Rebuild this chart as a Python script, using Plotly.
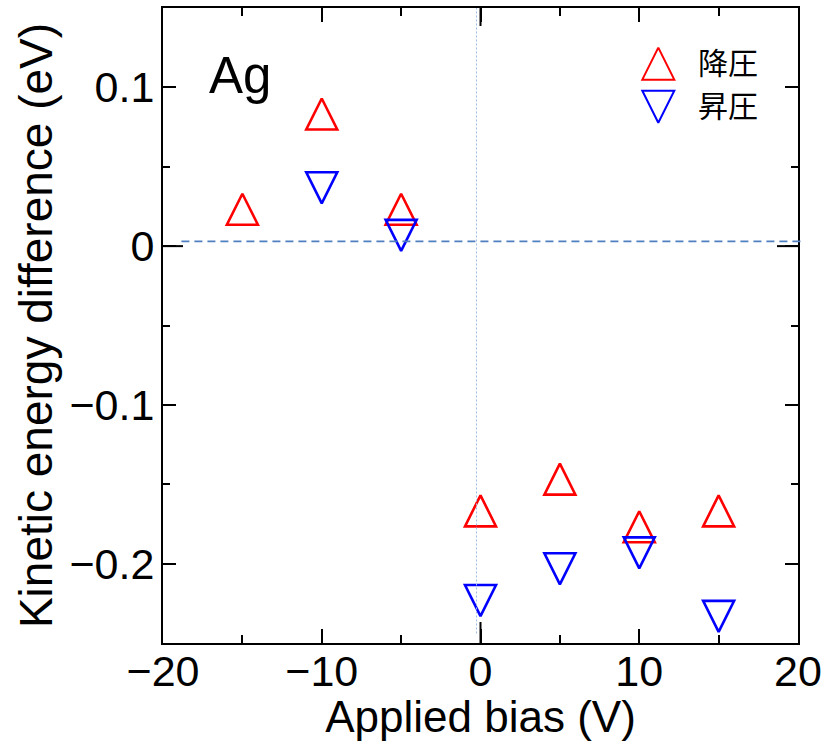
import plotly.graph_objects as go

# Applied bias (V) and kinetic energy difference (eV)
bias_down = [-15, -10, -5, 0, 5, 10, 15]
ked_down = [0.02, 0.08, 0.02, -0.17, -0.15, -0.18, -0.17]   # 降圧
bias_up = [-10, -5, 0, 5, 10, 15]
ked_up = [0.04, 0.01, -0.22, -0.20, -0.19, -0.23]            # 昇圧

label_down = "降圧"
label_up = "昇圧"
sample = "Ag"

ref_level = 0.003      # dashed reference level (eV)
ref_bias = -0.25       # dotted reference bias (V)

x_range = [-20, 20]
y_range = [-0.25, 0.15]

FONT = "Liberation Sans, Arial, Helvetica, sans-serif"
CJK = "Noto Sans CJK JP, Noto Sans, sans-serif"
RED = "#ff0000"
BLUE = "#0000ff"

# equilateral-looking triangles centred on their centroid
SIZE = 31


def tri(color, up, size=SIZE, lw=2.6):
    r = size / 2
    return dict(
        symbol="arrow-down-open",
        angle=180 if up else 0,
        standoff=4 * r / 3,
        size=size,
        color=color,
        line=dict(color=color, width=lw),
    )


fig = go.Figure()

fig.add_trace(go.Scatter(
    x=bias_down, y=ked_down, mode="markers", name=label_down,
    marker=tri(RED, True), showlegend=False, cliponaxis=False,
))
fig.add_trace(go.Scatter(
    x=bias_up, y=ked_up, mode="markers", name=label_up,
    marker=tri(BLUE, False), showlegend=False, cliponaxis=False,
))

# key symbols on an overlay axis spanning the plot area
key_x = [0.78, 0.78]
key_y = [0.904, 0.853]
fig.add_trace(go.Scatter(
    x=[key_x[0]], y=[key_y[0]], mode="markers", xaxis="x2", yaxis="y2",
    marker=tri(RED, True, size=32, lw=2), showlegend=False, hoverinfo="skip",
))
fig.add_trace(go.Scatter(
    x=[key_x[1]], y=[key_y[1]], mode="markers", xaxis="x2", yaxis="y2",
    marker=tri(BLUE, False, size=32, lw=2), showlegend=False, hoverinfo="skip",
))

shapes = [
    # dashed reference level
    dict(type="line", xref="paper", yref="y", x0=0.029, x1=1.004,
         y0=ref_level, y1=ref_level,
         line=dict(color="#4f7fbf", width=1.6, dash="8px,5px")),
    # dotted reference bias
    dict(type="line", xref="x", yref="paper", x0=ref_bias, x1=ref_bias,
         y0=0.015, y1=1.0, line=dict(color="#9dbbe6", width=1, dash="2px,2px")),
]
# longer ticks at zero on all four sides
tick_style = dict(color="black", width=2)
shapes += [
    dict(type="line", xref="x", yref="y", ysizemode="pixel", yanchor=y_range[0],
         x0=0, x1=0, y0=0, y1=21, line=tick_style),
    dict(type="line", xref="x", yref="y", ysizemode="pixel", yanchor=y_range[1],
         x0=0, x1=0, y0=0, y1=-18, line=tick_style),
    dict(type="line", xref="x", yref="y", xsizemode="pixel", xanchor=x_range[0],
         x0=0, x1=20, y0=0, y1=0, line=tick_style),
    dict(type="line", xref="x", yref="y", xsizemode="pixel", xanchor=x_range[1],
         x0=0, x1=-21, y0=0, y1=0, line=tick_style),
]

annotations = [
    dict(text=sample, xref="paper", yref="paper", x=0.07, y=0.893,
         xanchor="left", yanchor="middle", showarrow=False,
         font=dict(family=FONT, size=51, color="black")),
    dict(text=label_down, xref="paper", yref="paper", x=0.84, y=0.916,
         xanchor="left", yanchor="middle", showarrow=False,
         font=dict(family=CJK, size=30, color="black")),
    dict(text=label_up, xref="paper", yref="paper", x=0.84, y=0.849,
         xanchor="left", yanchor="middle", showarrow=False,
         font=dict(family=CJK, size=30, color="black")),
]

axis_common = dict(
    showline=True, linecolor="black", linewidth=2, mirror="ticks",
    ticks="inside", tickwidth=2, tickcolor="black",
    showgrid=False, zeroline=False, automargin=False,
    tickfont=dict(family=FONT, size=43, color="black"),
)

fig.update_layout(
    width=839, height=741,
    margin=dict(l=163, r=41, t=8, b=98, autoexpand=False),
    paper_bgcolor="white", plot_bgcolor="white",
    showlegend=False,
    xaxis=dict(
        range=x_range, tick0=0, dtick=10, ticklen=14,
        minor=dict(ticks="inside", dtick=5, ticklen=8, tickwidth=2, tickcolor="black"),
        title=dict(text="Applied bias (V)", standoff=0,
                   font=dict(family=FONT, size=44, color="black")),
        ticklabelstandoff=-11,
        **axis_common,
    ),
    yaxis=dict(
        range=y_range, tick0=0, dtick=0.1, ticklen=13,
        minor=dict(ticks="inside", dtick=0.05, ticklen=7, tickwidth=2, tickcolor="black"),
        title=dict(text="Kinetic energy difference (eV)", standoff=2,
                   font=dict(family=FONT, size=46, color="black")),
        ticklabelstandoff=-2,
        **axis_common,
    ),
    xaxis2=dict(range=[0, 1], overlaying="x", visible=False, fixedrange=True),
    yaxis2=dict(range=[0, 1], overlaying="y", visible=False, fixedrange=True),
    shapes=shapes,
    annotations=annotations,
)

fig.write_html("out.html")
